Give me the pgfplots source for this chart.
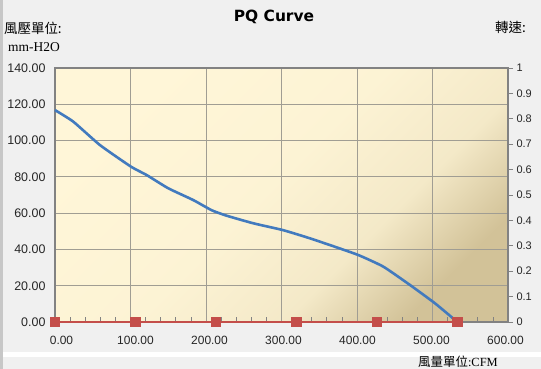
\documentclass[border=0pt]{standalone}
\usepackage{fontspec}
\setmainfont{Liberation Sans}
\newfontfamily\cjk{Noto Sans CJK TC}
\newfontfamily\serifm{Liberation Serif}
\newfontfamily\titlefont{DejaVu Sans}
\usepackage{pgfplots}
\pgfplotsset{compat=1.18}
\definecolor{bgout}{RGB}{240,240,240}
\definecolor{bgA}{RGB}{255,246,216}
\definecolor{bgB}{RGB}{210,194,152}
\definecolor{gridc}{RGB}{160,157,147}
\definecolor{framec}{RGB}{130,130,130}
\definecolor{blue1}{RGB}{66,122,190}
\definecolor{red1}{RGB}{196,78,74}
\pgfdeclarehorizontalshading{plotbg}{100bp}{color(0bp)=(bgA); color(25bp)=(bgA); color(48bp)=(bgA!94!bgB); color(63bp)=(bgA!75!bgB); color(75bp)=(bgB); color(100bp)=(bgB)}
\begin{document}
\begin{tikzpicture}
\path[use as bounding box, fill=bgout] (0,0) rectangle (541bp,369bp);
\fill[white] (0,12bp) rectangle (541bp,17bp);
\fill[black!22] (0,0) rectangle (3bp,369bp);
\node[anchor=center, font=\titlefont\bfseries\fontsize{15.5}{18}\selectfont] at (274bp,352bp) {PQ Curve};
\node[anchor=west, inner sep=0, font=\cjk\fontsize{13.5}{15}\selectfont] at (4bp,341bp) {風壓單位:};
\node[anchor=west, inner sep=0, font=\serifm\fontsize{13.5}{15}\selectfont] at (8bp,322bp) {mm-H2O};
\node[anchor=west, inner sep=0, font=\cjk\fontsize{13.5}{15}\selectfont] at (495bp,342bp) {轉速:};
\node[anchor=west, inner sep=0, font=\fontsize{12.5}{14}\selectfont] at (418bp,7bp) {{\cjk 風量單位}\serifm:CFM};
\begin{axis}[
  at={(55bp,47bp)}, anchor=south west, scale only axis,
  width=453bp, height=254bp,
  xmin=0, xmax=600, ymin=0, ymax=140,
  xtick={0,100,...,600}, ytick={0,20,...,140},
  xticklabels={},
  xtick pos=lower,
  grid=major, major grid style={gridc, line width=0.9bp},
  major tick length=0pt,
  tick align=inside,
  tick style={gridc, line width=0.8bp},
  extra x ticks={20,40,60,80,120,140,160,180,220,240,260,280,320,340,360,380,420,440,460,480,520,540,560,580},
  extra x tick labels={},
  extra x tick style={grid=none, major tick length=5bp, tick align=inside, major tick style={draw=framec, line width=0.8bp}},
  axis line style={framec, line width=1.6bp},
  axis background/.style={shading=plotbg, shading angle=-45},
  /pgf/number format/assume math mode=true,
  yticklabel style={/pgf/number format/fixed, /pgf/number format/fixed zerofill, /pgf/number format/precision=2, font=\fontsize{12.5}{14}\selectfont, text=black!85, xshift=-6bp},
  clip=false,
]
\addplot[red1, line width=1.8bp, mark=square*, mark size=4.5bp, mark options={fill=red1, draw=red1}] coordinates {
(0,0) (106.6,0) (213.2,0) (319.8,0) (426.4,0) (533,0)};
\addplot[blue1, line width=2.6bp, smooth, tension=0.3] coordinates {
(0,116.8) (24.3,110.4) (59.6,97.5) (100.7,85.6) (121.4,81) (150,73.7) (183.2,67.2) (207.5,61.6) (227.3,58.6) (262.7,54.4) (301.5,50.7) (333.3,46.7) (364.2,42.4) (401.8,36.9) (434.9,30.5) (470.2,20.4) (503.3,10.3) (529.8,1.1) (533,0)};
\end{axis}
\begin{axis}[
  at={(55bp,47bp)}, anchor=south west, scale only axis,
  width=453bp, height=254bp,
  xmin=-8.78, xmax=603.4, ymin=0, ymax=1,
  axis y line*=right, axis x line*=bottom,
  axis line style={draw=none},
  xtick={0,100,200,300,400,500,600},
  ytick={0,0.1,0.2,0.3,0.4,0.5,0.6,0.7,0.8,0.9,1},
  x tick style={draw=none},
  y tick style={framec, line width=0.8bp},
  major tick length=5bp, tick align=outside,
  /pgf/number format/assume math mode=true,
  xticklabel style={/pgf/number format/fixed, /pgf/number format/fixed zerofill, /pgf/number format/precision=2, font=\fontsize{12}{14}\selectfont, text=black!85, yshift=-6bp},
  yticklabel style={/pgf/number format/fixed, /pgf/number format/precision=1, font=\fontsize{11}{13}\selectfont, text=black!85},
]
\addplot[draw=none] coordinates {(0,0)};
\end{axis}
\end{tikzpicture}
\end{document}
